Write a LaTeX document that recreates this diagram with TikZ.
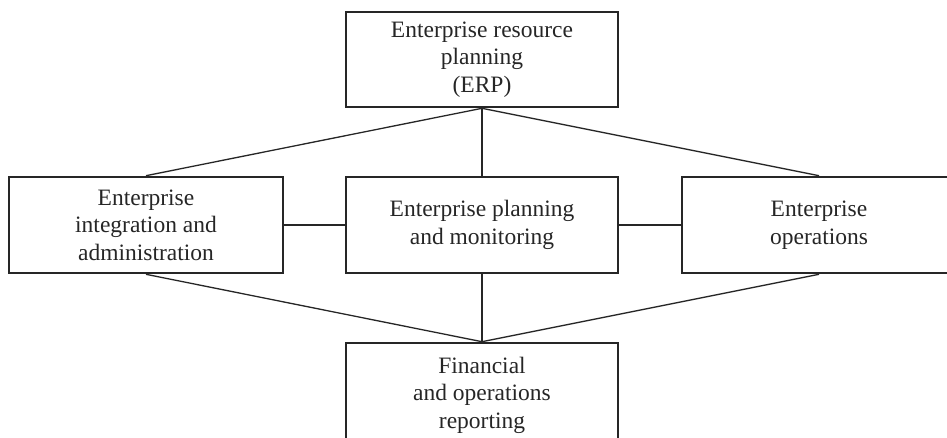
\documentclass[tikz,border=0pt]{standalone}
\usepackage{fontspec}
\setmainfont{Liberation Serif}
\begin{document}
\begin{tikzpicture}[x=1pt,y=-1pt,
  boxnode/.style={draw=black!85, line width=2.6pt, rectangle, align=center, inner sep=0pt,
    font=\fontsize{23.5}{27.5}\selectfont, text=black!85},
  link/.style={draw=black!85, line width=1.3pt}]
\useasboundingbox (0,0) rectangle (947,437);
\clip (0,0) rectangle (947,437);
\node[boxnode, minimum width=272pt, minimum height=95pt] (erp) at (482,59.5) {Enterprise resource\\planning\\(ERP)};
\node[boxnode, minimum width=274pt, minimum height=96pt] (eia) at (146,225) {Enterprise\\integration and\\administration};
\node[boxnode, minimum width=272pt, minimum height=96pt] (epm) at (482,225) {Enterprise planning\\and monitoring};
\node[boxnode, minimum width=274pt, minimum height=96pt] (eop) at (819,225) {Enterprise\\operations};
\node[boxnode, minimum width=272pt, minimum height=104pt] (for) at (482,395) {Financial\\and operations\\reporting};
\draw[link] (erp.south) -- (eia.north);
\draw[link] (erp.south) -- (epm.north);
\draw[link] (erp.south) -- (eop.north);
\draw[link] (eia.east) -- (epm.west);
\draw[link] (epm.east) -- (eop.west);
\draw[link] (eia.south) -- (for.north);
\draw[link] (epm.south) -- (for.north);
\draw[link] (eop.south) -- (for.north);
\end{tikzpicture}
\end{document}
